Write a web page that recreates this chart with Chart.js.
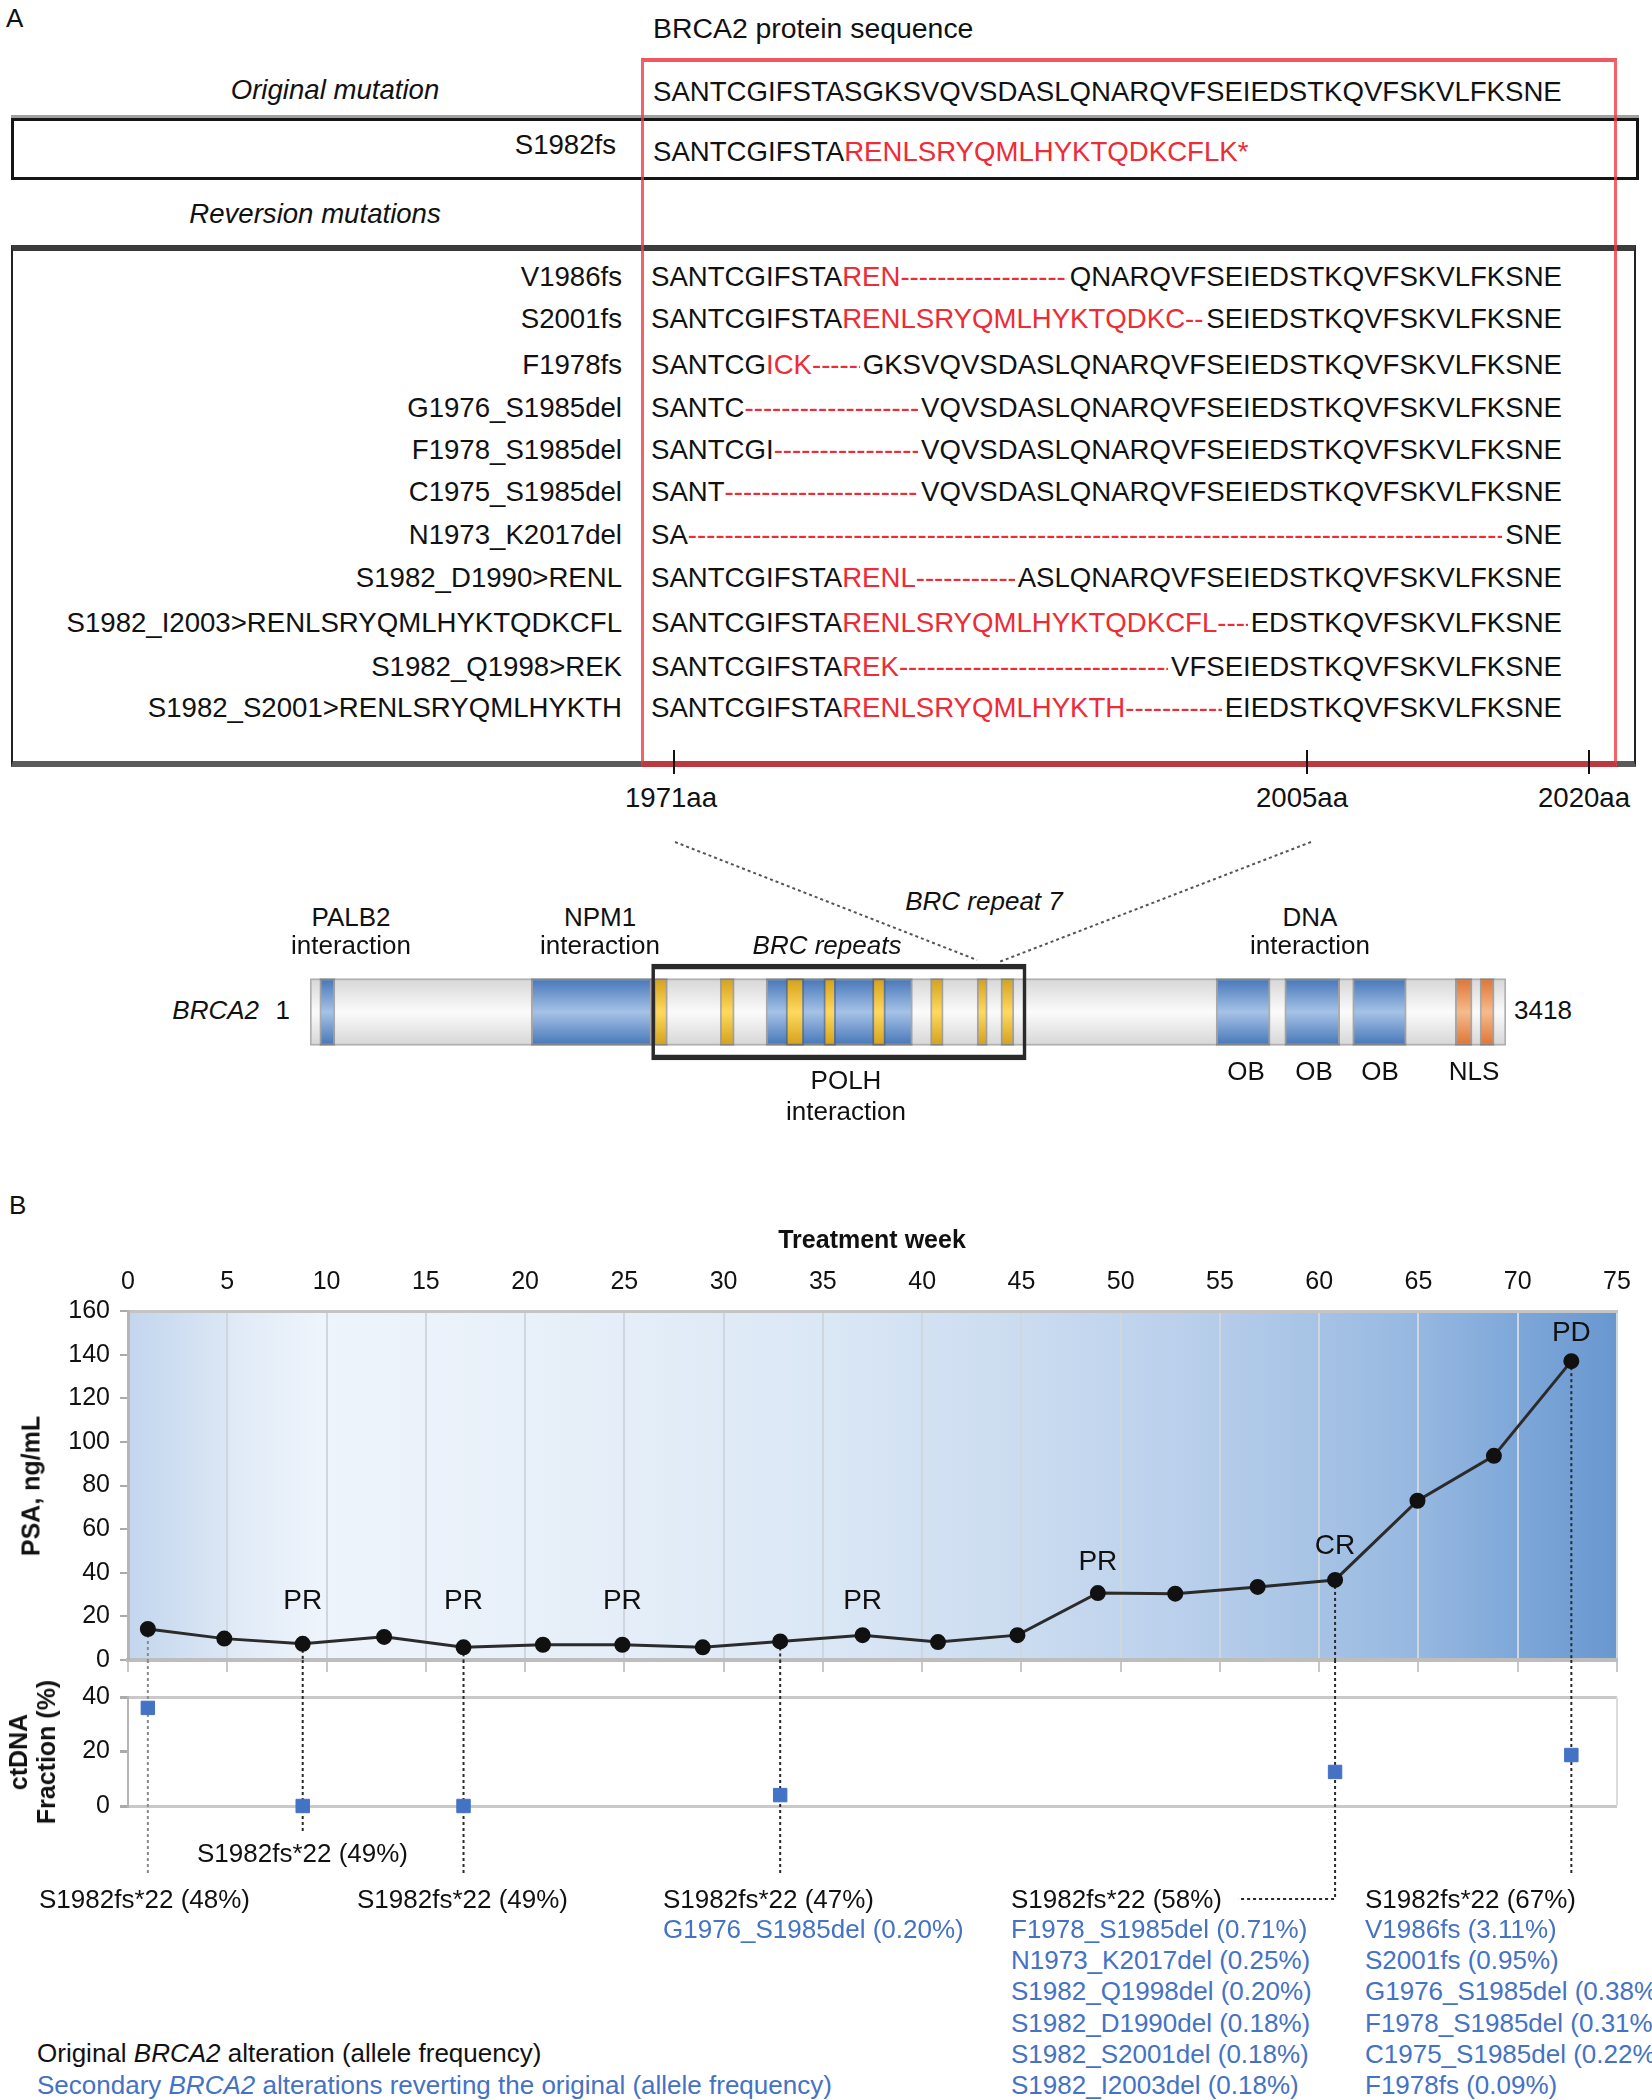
<!DOCTYPE html>
<html lang="en">
<head>
<meta charset="UTF-8">
<title>BRCA2 reversion mutations and treatment course</title>
<script src="https://cdn.jsdelivr.net/npm/chart.js"></script>
<style>
  body { margin:0; width:1652px; height:2100px; position:relative; overflow:hidden; background:#fff;
         font-family:"Liberation Sans", Arial, sans-serif; color:#111; }
  .t { position:absolute; white-space:nowrap; line-height:1; }
  .seq { position:absolute; display:flex; font-size:27.6px; line-height:1; white-space:nowrap; transform:translateY(-50%); }
  .seq .fill { flex:1; min-width:0; overflow:hidden; color:#ee2b36; margin-right:3px; }
  .red { color:#ee2b36; }
  .box { position:absolute; box-sizing:border-box; }
  canvas { position:absolute; }
</style>
</head>
<body>

<div class="box" style="left:11px;top:118px;width:1628px;height:62px;border:3px solid #151515;box-shadow:0 -3px 0 #a0a0a0;"></div>
<div class="box" style="left:11px;top:245px;width:1625px;height:522px;border-left:2px solid #222;border-right:2px solid #222;border-top:6px solid #3c3c3c;border-bottom:6px solid #5a5a5a;"></div>
<div class="box" style="left:641px;top:58px;width:976px;height:709px;border-top:4px solid rgba(238,60,70,0.85);border-left:3px solid rgba(238,60,70,0.8);border-right:3px solid rgba(238,60,70,0.8);border-bottom:6px solid #bb3a40;"></div>

<svg width="1652" height="1100" style="position:absolute;left:0;top:0">
  <g stroke="#111" stroke-width="2">
    <line x1="674" y1="750" x2="674" y2="774"/>
    <line x1="1307" y1="750" x2="1307" y2="774"/>
    <line x1="1589" y1="750" x2="1589" y2="774"/>
  </g>
  <g stroke="#555" stroke-width="2" stroke-dasharray="3 3">
    <line x1="675" y1="842" x2="977" y2="960"/>
    <line x1="1311" y1="842" x2="999" y2="962"/>
  </g>
</svg>

<canvas id="domains" width="1196" height="120" style="left:310px;top:952px"></canvas>
<canvas id="psaChart" width="1652" height="470" style="left:0;top:1220px"></canvas>
<canvas id="ctChart" width="1652" height="260" style="left:0;top:1660px"></canvas>

<script>
// ---------- panel A: sequences ----------
const originalSeq = 'SANTCGIFSTASGKSVQVSDASLQNARQVFSEIEDSTKQVFSKVLFKSNE';
const fsKept = 'SANTCGIFSTA';
const fsNew = 'RENLSRYQMLHYKTQDKCFLK*';
const revLabels = ['V1986fs', 'S2001fs', 'F1978fs', 'G1976_S1985del', 'F1978_S1985del', 'C1975_S1985del',
  'N1973_K2017del', 'S1982_D1990>RENL', 'S1982_I2003>RENLSRYQMLHYKTQDKCFL', 'S1982_Q1998>REK', 'S1982_S2001>RENLSRYQMLHYKTH'];
const revKept = ['SANTCGIFSTA', 'SANTCGIFSTA', 'SANTCG', 'SANTC', 'SANTCGI', 'SANT', 'SA',
  'SANTCGIFSTA', 'SANTCGIFSTA', 'SANTCGIFSTA', 'SANTCGIFSTA'];
const revNew = ['REN', 'RENLSRYQMLHYKTQDKC', 'ICK', '', '', '', '', 'RENL', 'RENLSRYQMLHYKTQDKCFL', 'REK', 'RENLSRYQMLHYKTH'];
const revTail = ['QNARQVFSEIEDSTKQVFSKVLFKSNE', 'SEIEDSTKQVFSKVLFKSNE', 'GKSVQVSDASLQNARQVFSEIEDSTKQVFSKVLFKSNE',
  'VQVSDASLQNARQVFSEIEDSTKQVFSKVLFKSNE', 'VQVSDASLQNARQVFSEIEDSTKQVFSKVLFKSNE', 'VQVSDASLQNARQVFSEIEDSTKQVFSKVLFKSNE',
  'SNE', 'ASLQNARQVFSEIEDSTKQVFSKVLFKSNE', 'EDSTKQVFSKVLFKSNE', 'VFSEIEDSTKQVFSKVLFKSNE', 'EIEDSTKQVFSKVLFKSNE'];
const aaTicks = ['1971aa', '2005aa', '2020aa'];

// ---------- panel A: BRCA2 domains (amino-acid ranges) ----------
const proteinLength = 3418;
const blueDomains = [[29, 72], [633, 977], [1304, 1722], [2590, 2744], [2786, 2943], [2980, 3133]];
const brcRepeats = [[985, 1022], [1173, 1213], [1361, 1412], [1469, 1503], [1608, 1645], [1774, 1810], [1907, 1936], [1975, 2012]];
const nlsDomains = [[3273, 3321], [3344, 3384]];
const polhRegion = [977, 2047];

// ---------- panel B data ----------
const psaWeeks = [1, 4.85, 8.8, 12.9, 16.9, 20.9, 24.9, 28.95, 32.85, 37, 40.8, 44.8, 48.85, 52.75, 56.9, 60.8, 64.95, 68.8, 72.7];
const psaValues = [14.2, 9.8, 7.4, 10.6, 5.8, 7, 7, 5.8, 8.5, 11.4, 8.2, 11.4, 30.7, 30.4, 33.5, 36.7, 73, 93.6, 137];
const ctdnaWeeks = [1, 8.8, 16.9, 32.85, 60.8, 72.7];
const ctdnaFraction = [36, 0, 0, 4, 12.5, 18.7];
const responseWeeks = [8.8, 16.9, 24.9, 37, 48.85, 60.8, 72.7];
const responseLabels = ['PR', 'PR', 'PR', 'PR', 'PR', 'CR', 'PD'];
const responseLevel = [27, 27, 27, 27, 45, 52, 150];
const originalAlt = ['S1982fs*22 (48%)', 'S1982fs*22 (49%)', 'S1982fs*22 (49%)', 'S1982fs*22 (47%)', 'S1982fs*22 (58%)', 'S1982fs*22 (67%)'];
const secondaryAlt = [
  [], [], [],
  ['G1976_S1985del (0.20%)'],
  ['F1978_S1985del (0.71%)', 'N1973_K2017del (0.25%)', 'S1982_Q1998del (0.20%)', 'S1982_D1990del (0.18%)', 'S1982_S2001del (0.18%)', 'S1982_I2003del (0.18%)'],
  ['V1986fs (3.11%)', 'S2001fs (0.95%)', 'G1976_S1985del (0.38%)', 'F1978_S1985del (0.31%)', 'C1975_S1985del (0.22%)', 'F1978fs (0.09%)']
];

// layout of the ctDNA annotation blocks (page pixels)
const altLayout = [
  { x: 39, y: 1899, end: 1873 },
  { x: 197, y: 1853, end: 1833 },
  { x: 357, y: 1899, end: 1873 },
  { x: 663, y: 1899, end: 1873 },
  { x: 1011, y: 1899, end: 1899, hookTo: 1238 },
  { x: 1365, y: 1899, end: 1873 }
];

const FONT = '"Liberation Sans", Arial, sans-serif';

function put(x, y, html, size, align, extra) {
  const d = document.createElement('div');
  d.className = 't';
  d.innerHTML = html;
  d.style.left = x + 'px';
  d.style.top = y + 'px';
  d.style.fontSize = size + 'px';
  const tx = align === 'center' ? '-50%' : align === 'right' ? '-100%' : '0';
  d.style.transform = 'translate(' + tx + ',-50%)';
  if (extra) Object.assign(d.style, extra);
  document.body.appendChild(d);
  return d;
}
function seqRow(y, kept, added, tail) {
  const d = document.createElement('div');
  d.className = 'seq';
  d.style.left = '651px';
  d.style.top = y + 'px';
  d.style.width = '911px';
  d.innerHTML = '<span>' + kept + '<span class="red">' + added + '</span></span>' +
    '<span class="fill">' + '-'.repeat(120) + '</span><span>' + tail + '</span>';
  document.body.appendChild(d);
}

// panel A text
put(6, 18, 'A', 26);
put(653, 28, 'BRCA2 protein sequence', 28.4);
put(335, 90, '<i>Original mutation</i>', 27.6, 'center');
put(653, 92, originalSeq, 27.6);
put(616, 145, 'S1982fs', 27.6, 'right');
put(653, 152, fsKept + '<span class="red">' + fsNew + '</span>', 27.6);
put(315, 214, '<i>Reversion mutations</i>', 27.6, 'center');
const rowY = [277, 319, 365, 408, 450, 492, 535, 578, 623, 667, 708];
revLabels.forEach((lab, i) => {
  put(622, rowY[i], lab.replace('>', '&gt;'), 27.6, 'right');
  seqRow(rowY[i], revKept[i], revNew[i], revTail[i]);
});
[671, 1302, 1584].forEach((x, i) => put(x, 798, aaTicks[i], 27.6, 'center'));

put(351, 917, 'PALB2', 26, 'center');
put(351, 945, 'interaction', 26, 'center');
put(600, 917, 'NPM1', 26, 'center');
put(600, 945, 'interaction', 26, 'center');
put(827, 945, '<i>BRC repeats</i>', 26, 'center');
put(984, 901, '<i>BRC repeat 7</i>', 26, 'center');
put(1310, 917, 'DNA', 26, 'center');
put(1310, 945, 'interaction', 26, 'center');
put(259, 1010, '<i>BRCA2</i>', 26, 'right');
put(290, 1010, '1', 26, 'right');
put(1514, 1010, '3418', 26);
put(846, 1080, 'POLH', 26, 'center');
put(846, 1111, 'interaction', 26, 'center');
[1246, 1314, 1380].forEach(x => put(x, 1071, 'OB', 26, 'center'));
put(1474, 1071, 'NLS', 26, 'center');

// panel B text
put(9, 1205, 'B', 26);
put(872, 1239, '<b>Treatment week</b>', 25, 'center');
put(31, 1486, '<b>PSA, ng/mL</b>', 25, 'center', { transform: 'translate(-50%,-50%) rotate(-90deg)' });
put(32, 1752, '<b>ctDNA<br>Fraction (%)</b>', 25, 'center',
  { transform: 'translate(-50%,-50%) rotate(-90deg)', textAlign: 'center', lineHeight: '28px' });

originalAlt.forEach((lab, i) => {
  const L = altLayout[i];
  put(L.x, L.y, lab, 26);
  secondaryAlt[i].forEach((s, j) => put(L.x, L.y + 30 + j * 31.2, s, 26, 'left', { color: '#4472c4' }));
});
put(37, 2053, 'Original <i>BRCA2</i> alteration (allele frequency)', 26);
put(37, 2085, 'Secondary <i>BRCA2</i> alterations reverting the original (allele frequency)', 26, 'left', { color: '#4472c4' });

// ---------- domain diagram ----------
function vgrad(chart, edge, mid, thick) {
  const a = chart.chartArea;
  if (!a) return edge;
  const cy = (a.top + a.bottom) / 2;
  const g = chart.ctx.createLinearGradient(0, cy - thick / 2, 0, cy + thick / 2);
  g.addColorStop(0, edge);
  g.addColorStop(0.5, mid);
  g.addColorStop(1, edge);
  return g;
}
function domainBar(range, edge, mid, order) {
  return {
    data: [range], order: order, barThickness: 67, grouped: false, borderSkipped: false,
    borderWidth: 2, borderColor: 'rgba(80,80,80,0.45)',
    backgroundColor: c => vgrad(c.chart, edge, mid, 67)
  };
}
new Chart(document.getElementById('domains'), {
  type: 'bar',
  data: {
    labels: ['BRCA2'],
    datasets: [
      domainBar([1, proteinLength], '#d6d6d6', '#fbfbfb', 4),
      ...blueDomains.map(r => domainBar(r, '#4576b8', '#a6c2e6', 3)),
      ...brcRepeats.map(r => domainBar(r, '#d4a01a', '#ffd95e', 2)),
      ...nlsDomains.map(r => domainBar(r, '#de7434', '#f6bb8c', 2)),
      { data: [polhRegion], order: 1, barThickness: 96, grouped: false, borderSkipped: false,
        backgroundColor: 'rgba(0,0,0,0)', borderColor: '#2a2a2a',
        borderWidth: { top: 5, bottom: 5, left: 3, right: 3 } }
    ]
  },
  options: {
    indexAxis: 'y', responsive: false, animation: false, events: [],
    layout: { padding: 0 },
    plugins: { legend: { display: false }, tooltip: { enabled: false } },
    scales: {
      x: { type: 'linear', min: 1, max: proteinLength, display: false },
      y: { display: false }
    }
  }
});

// ---------- PSA chart ----------
const bgStops = [[0, '#c3d6ee'], [0.065, '#dae6f4'], [0.07, '#e0eaf6'], [0.13, '#eef4fb'], [0.2, '#ebf2fa'],
  [0.33, '#e5eef8'], [0.47, '#dae7f5'], [0.6, '#cbdcf0'], [0.73, '#b6cdea'], [0.8, '#a6c3e5'],
  [0.87, '#95b7e0'], [0.93, '#7fa8d9'], [1, '#6897cf']];

const psaDecor = {
  id: 'psaDecor',
  beforeDraw(chart) {
    const { ctx, chartArea: a } = chart;
    const g = ctx.createLinearGradient(a.left, 0, a.right, 0);
    bgStops.forEach(s => g.addColorStop(s[0], s[1]));
    ctx.save();
    ctx.fillStyle = g;
    ctx.fillRect(a.left, a.top, a.right - a.left, a.bottom - a.top);
    ctx.restore();
  },
  beforeDatasetsDraw(chart) {
    const { ctx, chartArea: a, scales: { x, y } } = chart;
    ctx.save();
    ctx.lineWidth = 2;
    ctx.setLineDash([3, 3]);
    ctdnaWeeks.forEach((w, i) => {
      const px = x.getPixelForValue(w);
      ctx.strokeStyle = i === 0 ? '#8a8a8a' : '#2a2a2a';
      ctx.beginPath();
      ctx.moveTo(px, y.getPixelForValue(psaValues[psaWeeks.indexOf(w)]));
      ctx.lineTo(px, a.bottom);
      ctx.stroke();
    });
    ctx.restore();
  },
  afterDatasetsDraw(chart) {
    const { ctx, scales: { x, y } } = chart;
    ctx.save();
    ctx.font = '28px ' + FONT;
    ctx.fillStyle = '#111';
    ctx.textAlign = 'center';
    ctx.textBaseline = 'middle';
    responseWeeks.forEach((w, i) => ctx.fillText(responseLabels[i], x.getPixelForValue(w), y.getPixelForValue(responseLevel[i])));
    ctx.restore();
  }
};

new Chart(document.getElementById('psaChart'), {
  type: 'line',
  data: {
    datasets: [{
      data: psaWeeks.map((w, i) => ({ x: w, y: psaValues[i] })),
      borderColor: '#2b2b2b', borderWidth: 3, tension: 0,
      pointRadius: 6.5, pointBackgroundColor: '#111', pointBorderColor: '#111',
      xAxisID: 'x', yAxisID: 'y'
    }]
  },
  options: {
    responsive: false, animation: false, events: [],
    layout: { padding: { left: 0, right: 35, top: 0, bottom: 0 } },
    plugins: { legend: { display: false }, tooltip: { enabled: false } },
    scales: {
      x: {
        type: 'linear', position: 'top', min: 0, max: 75,
        afterFit: s => { s.height = 91; },
        ticks: { stepSize: 5, padding: 14, color: '#111', font: { size: 25, family: FONT } },
        grid: { color: '#cfd6de', lineWidth: 2, drawTicks: false },
        border: { color: '#c4c4c4', width: 3 }
      },
      xb: {
        type: 'linear', position: 'bottom', min: 0, max: 75,
        afterFit: s => { s.height = 30; },
        ticks: { stepSize: 5, display: false },
        grid: { drawOnChartArea: false, tickLength: 12, tickColor: '#c8c8c8', lineWidth: 2 },
        border: { color: '#bdbdbd', width: 4 }
      },
      y: {
        min: 0, max: 160,
        afterFit: s => { s.width = 128; },
        ticks: { stepSize: 20, padding: 10, color: '#111', font: { size: 25, family: FONT } },
        grid: { drawOnChartArea: false, tickLength: 8, tickColor: '#aaa', lineWidth: 2 },
        border: { color: '#b5b5b5', width: 3 }
      }
    }
  },
  plugins: [psaDecor]
});

// ---------- ctDNA chart ----------
const CT_TOP = 1660;
const ctDecor = {
  id: 'ctDecor',
  beforeDatasetsDraw(chart) {
    const { ctx, chartArea: a, scales: { x } } = chart;
    ctx.save();
    ctx.strokeStyle = '#dcdcdc';
    ctx.lineWidth = 2;
    ctx.beginPath();
    ctx.moveTo(a.right, a.top);
    ctx.lineTo(a.right, a.bottom);
    ctx.stroke();
    ctx.setLineDash([3, 3]);
    ctdnaWeeks.forEach((w, i) => {
      const px = x.getPixelForValue(w);
      const L = altLayout[i];
      ctx.strokeStyle = i === 0 ? '#8a8a8a' : '#2a2a2a';
      ctx.beginPath();
      ctx.moveTo(px, 0);
      ctx.lineTo(px, L.end - CT_TOP);
      if (L.hookTo) ctx.lineTo(L.hookTo, L.end - CT_TOP);
      ctx.stroke();
    });
    ctx.restore();
  }
};

new Chart(document.getElementById('ctChart'), {
  type: 'scatter',
  data: {
    datasets: [{
      data: ctdnaWeeks.map((w, i) => ({ x: w, y: ctdnaFraction[i] })),
      pointStyle: 'rect', pointRadius: 9.5,
      backgroundColor: '#4472c4', borderColor: '#4472c4', clip: false
    }]
  },
  options: {
    responsive: false, animation: false, events: [],
    layout: { padding: { left: 0, right: 35, top: 37, bottom: 114 } },
    plugins: { legend: { display: false }, tooltip: { enabled: false } },
    scales: {
      x: { type: 'linear', min: 0, max: 75, display: false },
      y: {
        min: 0, max: 40,
        afterFit: s => { s.width = 128; },
        ticks: { stepSize: 20, padding: 10, color: '#111', font: { size: 25, family: FONT } },
        grid: {
          color: c => (c.tick && c.tick.value === 20 ? 'rgba(0,0,0,0)' : '#c9c9c9'),
          lineWidth: 3, tickLength: 8, tickColor: '#aaa'
        },
        border: { color: '#b5b5b5', width: 2 }
      }
    }
  },
  plugins: [ctDecor]
});
</script>
</body>
</html>
